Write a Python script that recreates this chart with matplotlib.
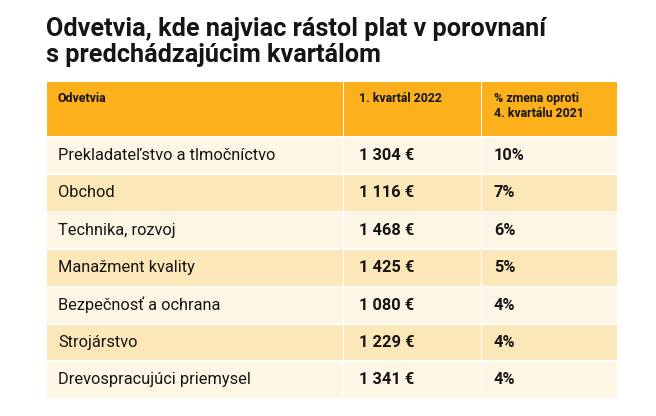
import matplotlib
matplotlib.use("Agg")
import matplotlib.pyplot as plt
from matplotlib.patches import Rectangle

# data
odvetvia = ["Prekladateľstvo a tlmočníctvo", "Obchod", "Technika, rozvoj",
            "Manažment kvality", "Bezpečnosť a ochrana", "Strojárstvo",
            "Drevospracujúci priemysel"]
mzda_q1_2022 = [1304, 1116, 1468, 1425, 1080, 1229, 1341]
zmena_pct = [10, 7, 6, 5, 4, 4, 4]
hlavicka = [["Odvetvia"], ["1. kvartál 2022"], ["% zmena oproti", "4. kvartálu 2021"]]
nadpis = ["Odvetvia, kde najviac rástol plat v porovnaní",
          "s predchádzajúcim kvartálom"]

W, H = 656, 416
fig = plt.figure(figsize=(W / 100, H / 100), dpi=100)
ax = fig.add_axes([0, 0, 1, 1])
ax.set_xlim(0, W)
ax.set_ylim(H, 0)
ax.axis("off")

FONT = "Roboto"
ORANZ = "#fbb01c"
SVETLA = "#fef6e4"
TMAVA = "#fce7b8"
TEXT = "#151515"

# stlpce tabulky (okraje v pixeloch)
x_hr = [47, 344, 482, 618]
x_txt = [58, 359, 494]
head_top, head_bot = 82, 136
row_h = 37.4
gap = 1.5

# nadpis
for j, riadok in enumerate(nadpis):
    ax.text(46, 36 + j * 26, riadok, fontsize=18.2, fontweight="bold",
            family=FONT, va="baseline", ha="left", color=TEXT)

# hlavicka
for i in range(3):
    ax.add_patch(Rectangle((x_hr[i], head_top), x_hr[i + 1] - x_hr[i] - gap,
                           head_bot - head_top, color=ORANZ, lw=0))
    for j, riadok in enumerate(hlavicka[i]):
        ax.text(x_txt[i], 102 + j * 15, riadok, fontsize=8.9,
                fontweight="bold", family=FONT, va="baseline", ha="left",
                color=TEXT)

# riadky
for r, (nazov, mzda, pct) in enumerate(zip(odvetvia, mzda_q1_2022, zmena_pct)):
    y0 = head_bot + gap + r * row_h
    farba = SVETLA if r % 2 == 0 else TMAVA
    for i in range(3):
        ax.add_patch(Rectangle((x_hr[i], y0), x_hr[i + 1] - x_hr[i] - gap,
                               row_h - gap, color=farba, lw=0))
    yb = y0 + 22.5
    ax.text(x_txt[0], yb, nazov, fontsize=11.8, family=FONT,
            va="baseline", ha="left", color=TEXT)
    mzda_txt = f"{mzda:,}".replace(",", " ") + " €"
    ax.text(x_txt[1], yb, mzda_txt, fontsize=11.8, fontweight="bold",
            family=FONT, va="baseline", ha="left", color=TEXT)
    ax.text(x_txt[2], yb, f"{pct}%", fontsize=11.8, fontweight="bold",
            family=FONT, va="baseline", ha="left", color=TEXT)

fig.savefig("out.png", dpi=100)
